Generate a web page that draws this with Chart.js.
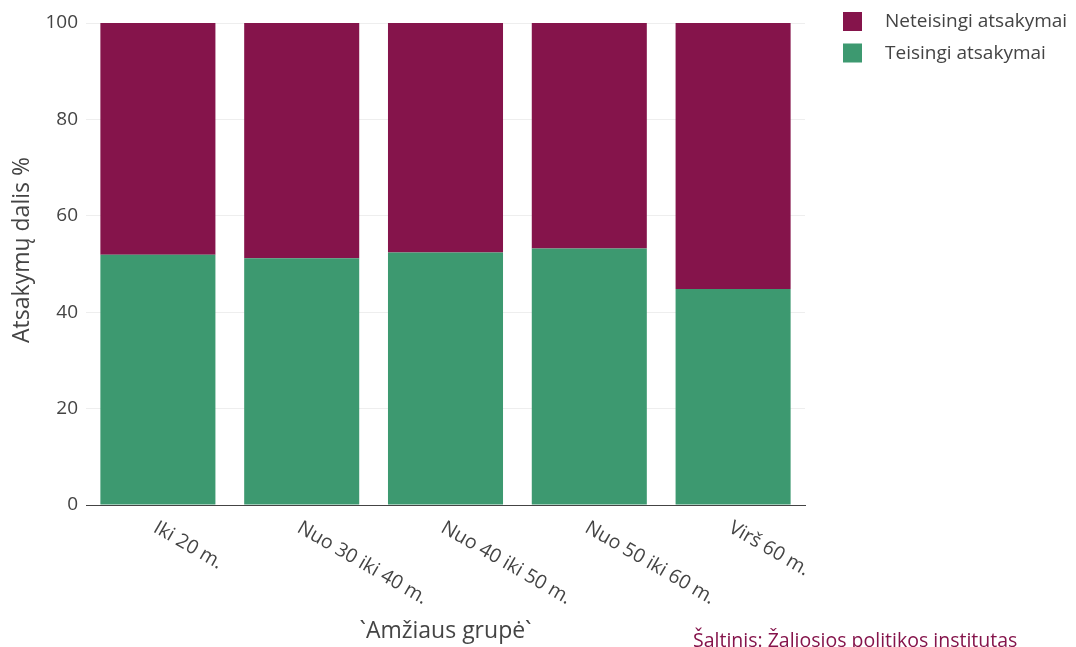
<!DOCTYPE html>
<html>
<head>
<meta charset="utf-8">
<script src="https://cdn.jsdelivr.net/npm/chart.js@4.4.0/dist/chart.umd.min.js"></script>
<style>
  html, body { margin: 0; padding: 0; background: #fff; }
  #wrap { width: 1076px; height: 647px; position: relative; }
</style>
</head>
<body>
<div id="wrap"><canvas id="c" width="1076" height="647"></canvas></div>
<script>
const categories = ["Iki 20 m.", "Nuo 30 iki 40 m.", "Nuo 40 iki 50 m.", "Nuo 50 iki 60 m.", "Virš 60 m."];
const teisingi = [51.9, 51.2, 52.4, 53.2, 44.8];
const neteisingi = [48.1, 48.8, 47.6, 46.8, 55.2];
const yTicks = [0, 20, 40, 60, 80, 100];
const xTitle = "`Amžiaus grupė`";
const yTitle = "Atsakymų dalis %";
const sourceText = "Šaltinis: Žaliosios politikos institutas";

const FONT = "'Open Sans', 'Noto Sans', sans-serif";
const TEXT = "#444";
const MAROON = "#85144b";
const GREEN = "#3d9970";

const overlay = {
  id: 'overlay',
  afterDraw(chart) {
    const ctx = chart.ctx;
    const xs = chart.scales.x;
    const area = chart.chartArea;
    ctx.save();
    // rotated x tick labels
    ctx.fillStyle = TEXT;
    ctx.font = "19.5px " + FONT;
    ctx.textAlign = 'left';
    ctx.textBaseline = 'top';
    categories.forEach((lab, i) => {
      const px = xs.getPixelForTick(i);
      ctx.save();
      ctx.translate(px + 2, area.bottom + 13);
      ctx.rotate(30 * Math.PI / 180);
      ctx.fillText(lab, 0, 0);
      ctx.restore();
    });
    // x title
    ctx.font = "23px " + FONT;
    ctx.textAlign = 'center';
    ctx.textBaseline = 'alphabetic';
    ctx.fillText(xTitle, (area.left + area.right) / 2, 638);
    // y title
    ctx.save();
    ctx.font = "23px " + FONT;
    ctx.translate(29, 250);
    ctx.rotate(-Math.PI / 2);
    ctx.fillText(yTitle, 0, 0);
    ctx.restore();
    // legend
    const ds = chart.data.datasets;
    const order = [1, 0];
    ctx.font = "19px " + FONT;
    ctx.textAlign = 'left';
    ctx.textBaseline = 'middle';
    order.forEach((di, k) => {
      const y = 21 + k * 31.5;
      ctx.fillStyle = ds[di].backgroundColor;
      ctx.fillRect(843, y - 9, 19, 19);
      ctx.fillStyle = TEXT;
      ctx.fillText(ds[di].label, 885, y + 1);
    });
    // source
    ctx.fillStyle = MAROON;
    ctx.font = "19.5px " + FONT;
    ctx.textBaseline = 'alphabetic';
    ctx.fillText(sourceText, 693, 647);
    ctx.restore();
  }
};

new Chart(document.getElementById('c'), {
  type: 'bar',
  data: {
    labels: categories,
    datasets: [
      { label: "Teisingi atsakymai", data: teisingi, backgroundColor: GREEN, borderWidth: 0 },
      { label: "Neteisingi atsakymai", data: neteisingi, backgroundColor: MAROON, borderWidth: 0 }
    ]
  },
  options: {
    responsive: false,
    animation: false,
    devicePixelRatio: 1,
    layout: { padding: { left: 0, top: 23, right: 271, bottom: 0 } },
    plugins: { legend: { display: false }, tooltip: { enabled: false } },
    datasets: { bar: { barPercentage: 0.8, categoryPercentage: 1.0 } },
    scales: {
      x: {
        stacked: true,
        grid: { display: false },
        border: { display: true, color: TEXT, width: 1 },
        ticks: { display: false },
        afterFit(s) { s.height = 142; }
      },
      y: {
        stacked: true,
        min: 0, max: 100,
        afterBuildTicks(s) { s.ticks = yTicks.map(v => ({ value: v })); },
        grid: { color: (c) => c.tick && c.tick.value === 0 ? 'rgba(0,0,0,0)' : '#eeeeee', drawTicks: false, lineWidth: 1 },
        border: { display: false },
        ticks: { color: TEXT, font: { family: FONT, size: 19 }, padding: 8 },
        afterFit(s) { s.width = 86; }
      }
    }
  },
  plugins: [overlay]
});
</script>
</body>
</html>
